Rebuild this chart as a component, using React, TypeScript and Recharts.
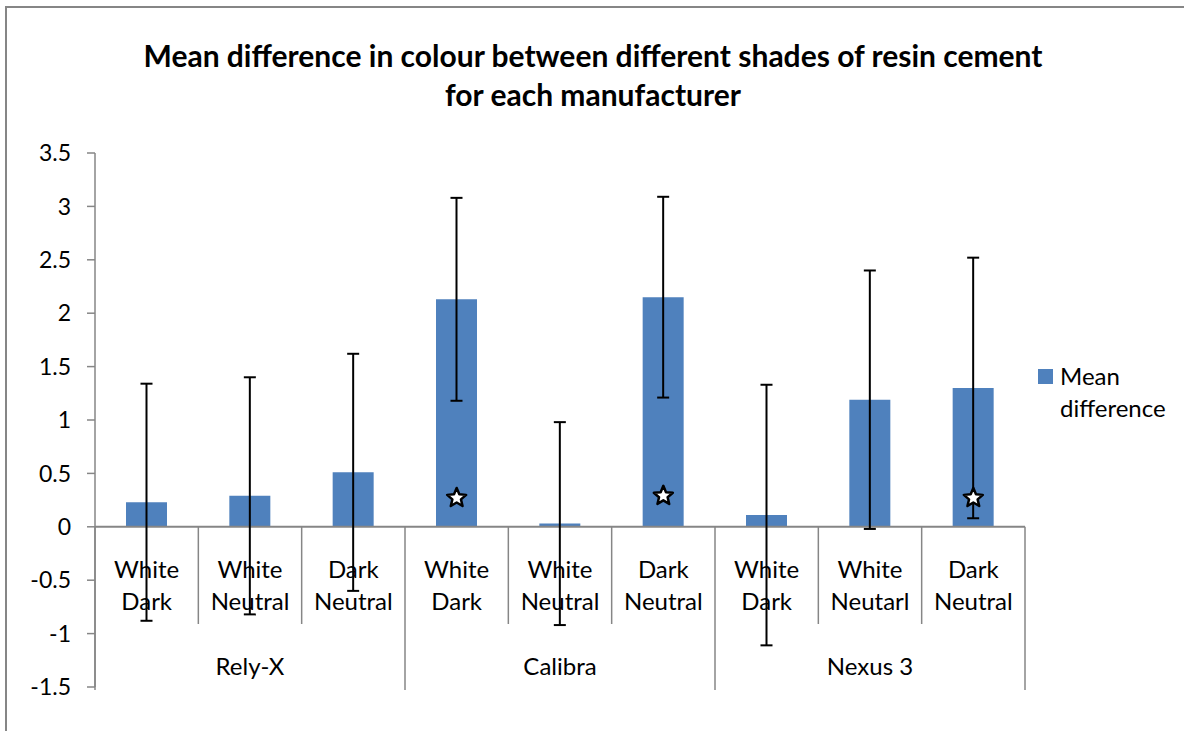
import { ComposedChart, Bar, ErrorBar, Scatter, XAxis, YAxis, ReferenceLine } from 'recharts';

// Chart data
const categories = ['White|Dark', 'White|Neutral', 'Dark|Neutral', 'White|Dark', 'White|Neutral', 'Dark|Neutral', 'White|Dark', 'White|Neutarl', 'Dark|Neutral'];
const groups = ['Rely-X', 'Calibra', 'Nexus 3'];
const meanDiff = [0.23, 0.29, 0.51, 2.13, 0.03, 2.15, 0.11, 1.19, 1.3];
const errors = [1.11, 1.11, 1.11, 0.95, 0.95, 0.94, 1.22, 1.21, 1.22];
const stars = [null, null, null, 0.27, null, 0.29, null, null, 0.27];
const yTicks = [-1.5, -1, -0.5, 0, 0.5, 1, 1.5, 2, 2.5, 3, 3.5];

const data = categories.map((c, i) => ({
    key: `${i}`,
    label: c,
    group: groups[Math.floor(i / 3)],
    mean: meanDiff[i],
    err: errors[i],
    star: stars[i],
}));

const FONT = 'Lato, "Open Sans", sans-serif';
const AXIS = '#868686';
const BLUE = '#4F81BD';

// layout
const W = 1184;
const H = 731;
const PLOT_LEFT = 95;
const PLOT_RIGHT = 1025;
const PLOT_TOP = 153;
const PLOT_BOTTOM = 687;
const CAT_W = (PLOT_RIGHT - PLOT_LEFT) / categories.length;
const ZERO_Y = PLOT_TOP + (PLOT_BOTTOM - PLOT_TOP) * (3.5 / 5);

function CategoryTick(props: any) {
    const { x, index } = props;
    const d = data[index];
    const [l1, l2] = d.label.split('|');
    const left = x - CAT_W / 2;
    const groupStart = index % 3 === 0;
    return (
        <g>
            <line x1={left} x2={left} y1={ZERO_Y} y2={groupStart ? 690 : 624} stroke={AXIS} strokeWidth={1.5} />
            {index === categories.length - 1 && (
                <line x1={x + CAT_W / 2} x2={x + CAT_W / 2} y1={ZERO_Y} y2={690} stroke={AXIS} strokeWidth={1.5} />
            )}
            <text x={x} y={578} textAnchor="middle" fontSize={24} fill="#000" fontFamily={FONT}>{l1}</text>
            <text x={x} y={610} textAnchor="middle" fontSize={24} fill="#000" fontFamily={FONT}>{l2}</text>
            {index % 3 === 1 && (
                <text x={x} y={675} textAnchor="middle" fontSize={24} fill="#000" fontFamily={FONT}>{d.group}</text>
            )}
        </g>
    );
}

function StarShape(props: any) {
    const { cx, cy, payload } = props;
    if (payload == null || payload.star == null || cy == null || isNaN(cy)) return null;
    const pts: string[] = [];
    for (let k = 0; k < 10; k++) {
        const r = k % 2 === 0 ? 10 : 4.5;
        const a = -Math.PI / 2 + (k * Math.PI) / 5;
        pts.push(`${cx + r * Math.cos(a)},${cy + r * Math.sin(a)}`);
    }
    return <polygon points={pts.join(' ')} fill="#fff" stroke="#000" strokeWidth={2.5} strokeLinejoin="round" />;
}

export default function App() {
    return (
        <div style={{ position: 'absolute', left: 0, top: 0, width: W, height: H, overflow: 'hidden', background: '#fff', fontFamily: FONT }}>
            <div style={{ position: 'absolute', left: 5, top: 6, width: W + 20, height: H + 20, border: `2px solid ${AXIS}`, boxSizing: 'border-box' }} />
            <div style={{ position: 'absolute', left: 0, top: 36, width: 1186, textAlign: 'center', fontSize: 30, fontWeight: 700, lineHeight: '39px', color: '#000' }}>
                Mean difference in colour between different shades of resin cement
                <br />
                for each manufacturer
            </div>
            <ComposedChart
                width={W}
                height={H}
                data={data}
                margin={{ top: PLOT_TOP, right: W - PLOT_RIGHT, bottom: 0, left: 0 }}
                style={{ position: 'absolute', left: 0, top: 0 }}
            >
                <XAxis dataKey="key" axisLine={false} tickLine={false} interval={0} height={H - PLOT_BOTTOM} tick={<CategoryTick />} />
                <YAxis
                    domain={[-1.5, 3.5]}
                    ticks={yTicks}
                    width={PLOT_LEFT}
                    stroke={AXIS}
                    strokeWidth={1.5}
                    tickSize={8}
                    tickMargin={16}
                    tick={{ fill: '#000', fontSize: 23, fontFamily: FONT }}
                    allowDataOverflow
                />
                <ReferenceLine y={0} stroke={AXIS} strokeWidth={2} />
                <Bar dataKey="mean" fill={BLUE} barSize={41} isAnimationActive={false}>
                    <ErrorBar dataKey="err" width={6} stroke="#000" strokeWidth={2} />
                </Bar>
                <Scatter dataKey="star" shape={<StarShape />} isAnimationActive={false} />
            </ComposedChart>
            <div style={{ position: 'absolute', left: 1038, top: 360, fontSize: 24, lineHeight: '32px', color: '#000' }}>
                <div style={{ display: 'flex', alignItems: 'center' }}>
                    <span style={{ display: 'inline-block', width: 15, height: 15, background: BLUE, marginRight: 7 }} />
                    Mean
                </div>
                <div style={{ paddingLeft: 22 }}>difference</div>
            </div>
        </div>
    );
}
